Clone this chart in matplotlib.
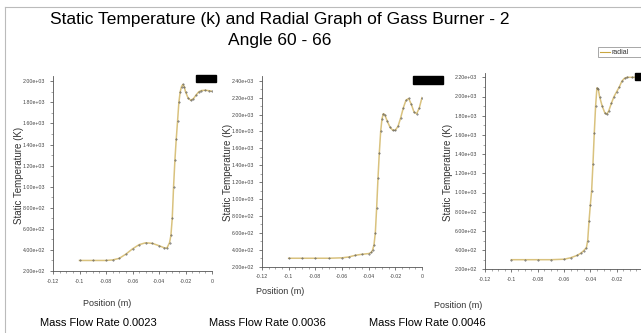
import matplotlib
matplotlib.use('Agg')
import matplotlib.pyplot as plt
from matplotlib.ticker import MultipleLocator, AutoMinorLocator, FuncFormatter
from matplotlib.patches import Rectangle
from matplotlib.lines import Line2D

plt.rcParams['font.family'] = ['Liberation Sans Narrow', 'Liberation Sans', 'DejaVu Sans']

title = "Static Temperature (k) and Radial Graph of Gass Burner - 2\nAngle 60 - 66"
captions = ["Mass Flow Rate 0.0023", "Mass Flow Rate 0.0036", "Mass Flow Rate 0.0046"]
series_name = "radial"

# position (m) and static temperature (K)
pos1 = [-0.1, -0.09, -0.08, -0.075, -0.07, -0.065, -0.06, -0.055, -0.05, -0.045,
        -0.04, -0.036, -0.034, -0.032, -0.031, -0.03, -0.029, -0.028, -0.027,
        -0.026, -0.025, -0.024, -0.023, -0.022, -0.021, -0.02, -0.018, -0.016,
        -0.014, -0.012, -0.01, -0.008, -0.005, -0.002, 0.0]
temp1 = [300, 300, 300, 305, 320, 360, 410, 450, 468, 462,
         440, 420, 418, 470, 540, 700, 1000, 1250, 1450,
         1620, 1800, 1900, 1950, 1970, 1950, 1900, 1840, 1820,
         1835, 1870, 1900, 1912, 1915, 1910, 1905]

pos2 = [-0.1, -0.09, -0.08, -0.07, -0.06, -0.055, -0.05, -0.045, -0.04, -0.038,
        -0.037, -0.036, -0.035, -0.034, -0.033, -0.032, -0.031, -0.03, -0.029,
        -0.028, -0.026, -0.024, -0.022, -0.02, -0.018, -0.016, -0.014, -0.012,
        -0.01, -0.008, -0.006, -0.004, -0.002, 0.0]
temp2 = [300, 300, 300, 300, 305, 315, 335, 347, 355, 370,
         400, 460, 600, 900, 1250, 1550, 1800, 1950, 2010,
         2000, 1920, 1850, 1815, 1815, 1860, 1960, 2080, 2170,
         2190, 2120, 2030, 2010, 2080, 2200]

pos3 = [-0.1, -0.09, -0.08, -0.07, -0.06, -0.055, -0.05, -0.047, -0.045, -0.043,
        -0.042, -0.041, -0.04, -0.039, -0.038, -0.037, -0.036, -0.035, -0.034,
        -0.033, -0.031, -0.029, -0.0275, -0.026, -0.024, -0.022, -0.02, -0.018,
        -0.016, -0.014, -0.012, -0.008, -0.004, 0.0]
temp3 = [300, 300, 300, 300, 305, 320, 345, 370, 395, 425,
         500, 700, 870, 1020, 1300, 1620, 1900, 2090, 2080,
         2000, 1900, 1830, 1815, 1850, 1930, 2000, 2050, 2100,
         2160, 2190, 2200, 2200, 2200, 2200]

W, H = 641, 333
fig = plt.figure(figsize=(W / 100, H / 100), dpi=100)

def box(l, t, r, b):
    return [l / W, 1 - b / H, (r - l) / W, (b - t) / H]

panels = [
    (pos1, temp1, box(53, 76, 212, 271), 2050, (19, 175), (107, 303)),
    (pos2, temp2, box(262, 76.5, 422, 266.7), 2450, (228, 172), (280, 292)),
    (pos3, temp3, box(485, 72.5, 643, 269.3), 2250, (448, 172), (458, 305)),
]

def xfmt(v, p):
    return '%g' % round(v, 3)

def xfmt_cut(v, p):
    # the last panel runs off the right edge, its "0" is not shown
    return '' if abs(v) < 1e-9 else '%g' % round(v, 3)

line_col = '#d9c27e'
for i, (x, y, rect, ytop, ylab, xlab) in enumerate(panels):
    ax = fig.add_axes(rect)
    ax.plot(x, y, color=line_col, lw=1.1, zorder=2)
    ax.plot(x, y, ls='none', marker='.', ms=0.8, color='#555555', zorder=3)
    ax.set_xlim(-0.12, 0)
    ax.set_ylim(200, ytop)
    ax.xaxis.set_major_locator(MultipleLocator(0.02))
    ax.xaxis.set_minor_locator(AutoMinorLocator(4))
    ax.yaxis.set_major_locator(MultipleLocator(200))
    ax.yaxis.set_minor_locator(AutoMinorLocator(2))
    ax.xaxis.set_major_formatter(FuncFormatter(xfmt_cut if i == 2 else xfmt))
    ax.yaxis.set_major_formatter(FuncFormatter(lambda v, p: '%.2e' % v))
    ax.tick_params(which='major', length=2.5, width=0.5, labelsize=3.8,
                   colors='#444444', pad=3)
    ax.tick_params(which='minor', length=1.2, width=0.4, colors='#666666')
    for s in ['top', 'right']:
        ax.spines[s].set_visible(False)
    for s in ['left', 'bottom']:
        ax.spines[s].set_linewidth(0.6)
        ax.spines[s].set_color('#555555')
    fig.text(ylab[0] / W, 1 - ylab[1] / H, "Static Temperature (K)", rotation=90,
             ha='center', va='center', fontsize=7, color='#333333')
    fig.text(xlab[0] / W, 1 - xlab[1] / H, "Position (m)",
             ha='center', va='center', fontsize=6.5, color='#333333')

# black legend boxes at the top right of each panel
for l, t, r, b in [(196, 75, 216, 82), (413, 76, 443, 84), (635, 73, 645, 80)]:
    fig.patches.append(Rectangle((l / W, 1 - b / H), (r - l) / W, (b - t) / H,
                                 transform=fig.transFigure, color='black', zorder=5))

# small legend next to the title
fig.patches.append(Rectangle((598 / W, 1 - 57 / H), 50 / W, 10 / H, transform=fig.transFigure,
                             facecolor='white', edgecolor='#999999', lw=0.6, zorder=5))
fig.lines.append(Line2D([600 / W, 610 / W], [1 - 52 / H, 1 - 52 / H], transform=fig.transFigure,
                        color='#c9a640', lw=0.8, zorder=6))
fig.text(611 / W, 1 - 52 / H, series_name, fontsize=5, va='center', ha='left',
         color='#333333', zorder=6)

# frame lines
fig.lines.append(Line2D([5 / W, 1], [1 - 7 / H, 1 - 7 / H], transform=fig.transFigure,
                        color='#bbbbbb', lw=0.8))
fig.lines.append(Line2D([5 / W, 5 / W], [0, 1 - 7 / H], transform=fig.transFigure,
                        color='#bbbbbb', lw=0.8))

fig.text(280 / W, 1 - 30 / H, title, ha='center', va='center', fontsize=12.5,
         family=['Liberation Sans', 'DejaVu Sans'], linespacing=1.55)

for cx, c in zip([98, 267, 427], captions):
    fig.text(cx / W, 1 - 323 / H, c, ha='center', va='center', fontsize=8,
             family=['Liberation Sans', 'DejaVu Sans'])

fig.savefig('out.png', dpi=100)
